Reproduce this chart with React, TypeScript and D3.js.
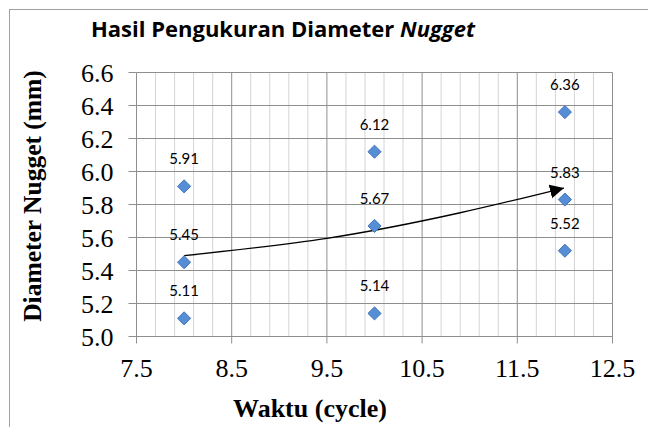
import React from "react";
import * as d3 from "d3";

const pointX = [8, 8, 8, 10, 10, 10, 12, 12, 12];
const pointY = [5.11, 5.45, 5.91, 5.14, 5.67, 6.12, 5.52, 5.83, 6.36];
const xTicks = [7.5, 8.5, 9.5, 10.5, 11.5, 12.5];
const yTicks = [5.0, 5.2, 5.4, 5.6, 5.8, 6.0, 6.2, 6.4, 6.6];
const trendX = [8, 9.5, 10.9, 11.99];
const trendY = [5.49, 5.595, 5.75, 5.9];
const titleMain = "Hasil Pengukuran Diameter ";
const titleItalic = "Nugget";
const yTitle = "Diameter Nugget (mm)";
const xTitle = "Waktu (cycle)";

const W = 648;
const H = 427;

export default function App() {
  const x = d3.scaleLinear().domain([7.5, 12.5]).range([136.5, 612.5]);
  const y = d3.scaleLinear().domain([5.0, 6.6]).range([336.5, 72.5]);
  const minorX = d3.range(0, 26).map((i) => 7.5 + i * 0.2).filter((_, i) => i % 5 !== 0);
  const line = d3
    .line<number>()
    .x((_, i) => x(trendX[i]))
    .y((d) => y(d))
    .curve(d3.curveNatural);
  const diamond = d3.symbol().type(d3.symbolDiamond2).size(110)();
  const major = "#8e8e8e";
  const minor = "#d4d4d4";
  const serif = "'Liberation Serif', 'Times New Roman', serif";
  return (
    <svg
      width={W}
      height={H}
      style={{ position: "absolute", left: 0, top: 0, background: "#fff" }}
    >
      <defs>
        <marker
          id="arr"
          markerUnits="userSpaceOnUse"
          markerWidth={16}
          markerHeight={16}
          refX={14}
          refY={7}
          orient="auto"
        >
          <path d="M0,0 L14,7 L0,14 Z" fill="#000" />
        </marker>
      </defs>
      <rect x={9.5} y={9.5} width={700} height={500} fill="#fff" stroke="#a0a0a0" strokeWidth={1} />
      <text x={91} y={36.5} fontFamily="'Open Sans', Lato, sans-serif" fontWeight="bold" fontSize={22} fill="#000">
        {titleMain}
        <tspan fontStyle="italic">{titleItalic}</tspan>
      </text>
      {minorX.map((v, i) => (
        <line key={"mx" + i} x1={x(v)} x2={x(v)} y1={y(6.6)} y2={y(5.0)} stroke={minor} strokeWidth={1} />
      ))}
      {yTicks.map((v, i) => (
        <line key={"gy" + i} x1={x(7.5)} x2={x(12.5)} y1={y(v)} y2={y(v)} stroke={major} strokeWidth={1} />
      ))}
      {xTicks.map((v, i) => (
        <line key={"gx" + i} x1={x(v)} x2={x(v)} y1={y(6.6)} y2={y(5.0) + 7} stroke={major} strokeWidth={1} />
      ))}
      {yTicks.map((v, i) => (
        <line key={"ty" + i} x1={x(7.5) - 8} x2={x(7.5)} y1={y(v)} y2={y(v)} stroke={major} strokeWidth={1} />
      ))}
      {yTicks.map((v, i) => (
        <text
          key={"ly" + i}
          x={113.5}
          y={y(v) + 9.5}
          textAnchor="end"
          fontFamily={serif}
          fontSize={26}
          fill="#000"
        >
          {v.toFixed(1)}
        </text>
      ))}
      {xTicks.map((v, i) => (
        <text
          key={"lx" + i}
          x={x(v)}
          y={376.5}
          textAnchor="middle"
          fontFamily={serif}
          fontSize={26}
          fill="#000"
        >
          {v.toFixed(1)}
        </text>
      ))}
      <text
        transform={`translate(40.5,196) rotate(-90)`}
        textAnchor="middle"
        fontFamily={serif}
        fontWeight="bold"
        fontSize={25.5}
        fill="#000"
      >
        {yTitle}
      </text>
      <text
        x={310}
        y={417}
        textAnchor="middle"
        fontFamily={serif}
        fontWeight="bold"
        fontSize={26}
        fill="#000"
      >
        {xTitle}
      </text>
      <path d={line(trendY) || ""} fill="none" stroke="#000" strokeWidth={1.3} markerEnd="url(#arr)" />
      {pointY.map((v, i) => (
        <g key={"p" + i}>
          <path
            d={diamond || ""}
            transform={`translate(${x(pointX[i])},${y(v)})`}
            fill="#558ed5"
            stroke="#4276bd"
            strokeWidth={1}
          />
          <text
            x={x(pointX[i])}
            y={y(v) - 22}
            textAnchor="middle"
            fontFamily="Lato, 'Open Sans', sans-serif"
            fontSize={15}
            fill="#000"
          >
            {v.toFixed(2)}
          </text>
        </g>
      ))}
    </svg>
  );
}
